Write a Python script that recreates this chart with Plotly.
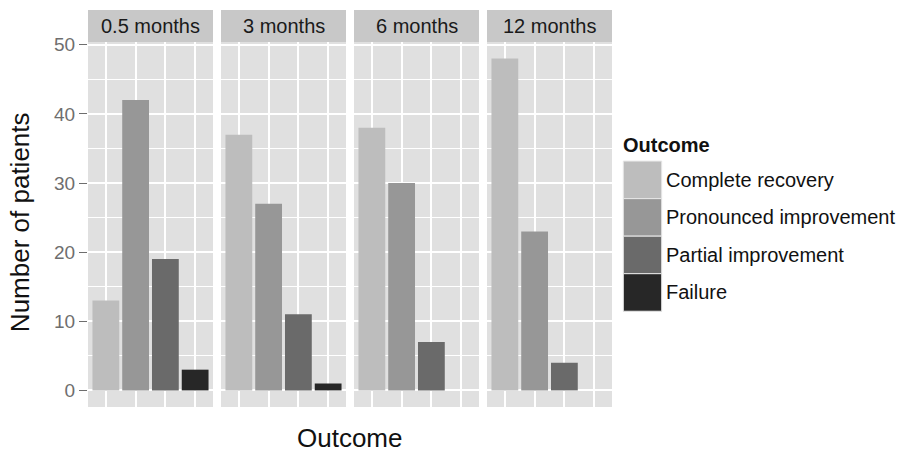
import plotly.graph_objects as go
from plotly.subplots import make_subplots

# ---- data ----
periods = ["0.5 months", "3 months", "6 months", "12 months"]
outcomes = ["Complete recovery", "Pronounced improvement", "Partial improvement", "Failure"]
complete_recovery = [13, 37, 38, 48]
pronounced_improvement = [42, 27, 30, 23]
partial_improvement = [19, 11, 7, 4]
failure = [3, 1, 0, 0]
y_ticks = [0, 10, 20, 30, 40, 50]

series = [complete_recovery, pronounced_improvement, partial_improvement, failure]
colors = ["#bdbdbd", "#979797", "#6a6a6a", "#272727"]

FONT = "Liberation Sans, Arial, sans-serif"
W, H = 907, 452
L, R, T, B = 88, 295, 42, 45.3
PW = W - L - R
PH = H - T - B

def px_x(x):
    return (x - L) / PW

def px_y(y):
    return (H - B - y) / PH

fig = make_subplots(rows=1, cols=4, shared_yaxes=True, horizontal_spacing=8 / PW)

for p, period in enumerate(periods):
    for k, name in enumerate(outcomes):
        val = series[k][p]
        if val <= 0:
            continue
        fig.add_trace(
            go.Bar(
                x=[k + 1], y=[val], width=0.9, name=name,
                marker=dict(color=colors[k], line=dict(width=0)),
                showlegend=False, hovertemplate=f"{period}<br>{name}: %{{y}}<extra></extra>",
            ),
            row=1, col=p + 1,
        )

for c in range(1, 5):
    fig.update_xaxes(
        range=[0.4, 4.6], tickvals=[1, 2, 3, 4], showticklabels=False, ticks="",
        showgrid=True, gridcolor="white", gridwidth=1.6, zeroline=False, showline=False,
        row=1, col=c,
    )
    fig.update_yaxes(
        range=[-2.4, 50.4], tickvals=y_ticks, showgrid=True, gridcolor="white", gridwidth=1.6,
        minor=dict(dtick=5, showgrid=True, gridcolor="white", gridwidth=0.8, ticks=""),
        zeroline=False, showline=False, row=1, col=c,
    )
fig.update_yaxes(
    ticks="outside", ticklen=8, tickwidth=1.2, tickcolor="#6e6e6e",
    tickfont=dict(family=FONT, size=19, color="#6e6e6e"), row=1, col=1,
)

shapes = []
annotations = []
for c, period in enumerate(periods):
    xd = "x domain" if c == 0 else f"x{c + 1} domain"
    shapes.append(dict(type="rect", xref=xd, yref="paper", x0=0, x1=1, y0=1, y1=1 + 32 / PH,
                       fillcolor="#c8c8c8", line=dict(width=0), layer="below"))
    annotations.append(dict(xref=xd, yref="paper", x=0.5, y=1 + 16 / PH, text=period,
                            showarrow=False, xanchor="center", yanchor="middle",
                            font=dict(family=FONT, size=20, color="#1a1a1a")))

# legend (drawn manually, ggplot style)
key_x0, key_x1 = 623.3, 661.7
key_top = 161
key_h = 37.5
annotations.append(dict(xref="paper", yref="paper", x=px_x(621), y=px_y(145), text="<b>Outcome</b>",
                        showarrow=False, xanchor="left", yanchor="middle",
                        font=dict(family=FONT, size=20, color="#111111")))
for k, name in enumerate(outcomes):
    y0 = key_top + k * key_h
    y1 = y0 + key_h
    shapes.append(dict(type="rect", xref="paper", yref="paper",
                       x0=px_x(key_x0), x1=px_x(key_x1), y0=px_y(y1), y1=px_y(y0),
                       fillcolor=colors[k], line=dict(color="#e6e6e6", width=1)))
    annotations.append(dict(xref="paper", yref="paper", x=px_x(664), y=px_y((y0 + y1) / 2), text=name,
                            showarrow=False, xanchor="left", yanchor="middle",
                            font=dict(family=FONT, size=20, color="#111111")))

# axis titles
annotations.append(dict(xref="paper", yref="paper", x=0.5, y=px_y(438), text="Outcome",
                        showarrow=False, xanchor="center", yanchor="middle",
                        font=dict(family=FONT, size=26, color="#111111")))
annotations.append(dict(xref="paper", yref="paper", x=px_x(20), y=px_y(222), text="Number of patients",
                        textangle=-90, showarrow=False, xanchor="center", yanchor="middle",
                        font=dict(family=FONT, size=26, color="#111111")))

fig.update_layout(
    width=W, height=H, margin=dict(l=L, r=R, t=T, b=B),
    paper_bgcolor="white", plot_bgcolor="#e0e0e0",
    barmode="overlay", showlegend=False,
    shapes=shapes, annotations=annotations,
    font=dict(family=FONT),
)

fig.write_html(
    "out.html",
    config={"displayModeBar": False},
    post_script="document.body.style.margin='0';document.body.style.overflow='hidden';",
)
